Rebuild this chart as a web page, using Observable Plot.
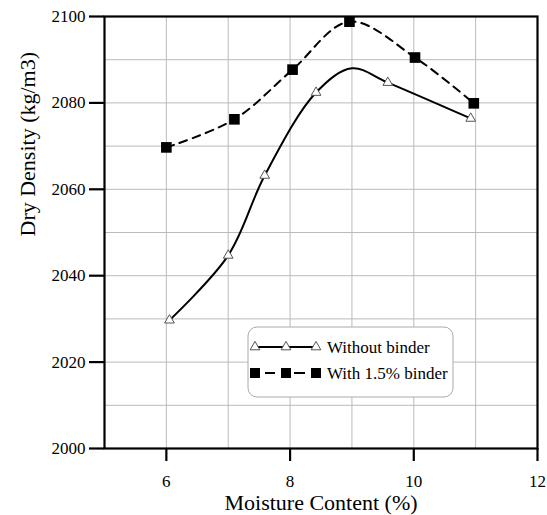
<!DOCTYPE html>
<html><head><meta charset="utf-8">
<script src="https://cdn.jsdelivr.net/npm/d3@7"></script>
<script src="https://cdn.jsdelivr.net/npm/@observablehq/plot@0.6"></script>
<style>body{margin:0;background:#fff;} #chart{position:relative;width:547px;height:515px;}
#chart svg text{font-family:"Liberation Serif","DejaVu Serif",serif;}</style>
</head><body><div id="chart"></div>
<script>
const withoutX = [6.05, 7.0, 7.59, 8.42, 9.58, 10.92];
const withoutY = [2029.7, 2044.7, 2063.2, 2082.4, 2084.7, 2076.4];
// curve peak (fitted line passes above the markers here)
const withoutPeakX = [9.0];
const withoutPeakY = [2088.0];
const withX = [6.0, 7.1, 8.04, 8.96, 10.02, 10.97];
const withY = [2069.7, 2076.2, 2087.7, 2098.8, 2090.5, 2079.9];
const xTicks = [6, 8, 10, 12];
const yTicks = [2000, 2020, 2040, 2060, 2080, 2100];
const xGrid = d3.range(5, 13, 1);
const yGrid = d3.range(2000, 2101, 10);
const seriesNames = ["Without binder", "With 1.5% binder"];

const without = withoutX.map((x, i) => ({x, y: withoutY[i]}));
const withoutLine = without.concat(withoutPeakX.map((x, i) => ({x, y: withoutPeakY[i]}))).sort((a, b) => a.x - b.x);
const withB = withX.map((x, i) => ({x, y: withY[i]}));
const font = "Liberation Serif";

const plot = Plot.plot({
  width: 547, height: 515,
  marginLeft: 104, marginRight: 10, marginTop: 16, marginBottom: 67,
  style: {fontSize: "16px", color: "#000", background: "#fff"},
  x: {domain: [5, 12]},
  y: {domain: [2000, 2100]},
  marks: [
    Plot.gridX(xGrid, {stroke: "#bbb", strokeOpacity: 1, strokeWidth: 1}),
    Plot.gridY(yGrid, {stroke: "#bbb", strokeOpacity: 1, strokeWidth: 1}),
    Plot.axisX(xTicks, {tickSize: 13, strokeWidth: 2.2, tickPadding: 13, fontSize: 17, fontFamily: font, label: null}),
    Plot.axisY(yTicks, {tickSize: 15, strokeWidth: 2.2, tickPadding: 4, fontSize: 17, fontFamily: font, label: null, tickFormat: d => String(d)}),
    Plot.text(["Moisture Content (%)"], {frameAnchor: "bottom", dy: 61, fontSize: 22, fontFamily: font}),
    Plot.text(["Dry Density (kg/m3)"], {frameAnchor: "left", dx: -77, dy: 4, rotate: -90, fontSize: 22, fontFamily: font}),
    Plot.line(withoutLine, {x: "x", y: "y", curve: "catmull-rom", stroke: "#000", strokeWidth: 2}),
    Plot.line(withB, {x: "x", y: "y", curve: "catmull-rom", stroke: "#000", strokeWidth: 2, strokeDasharray: "8,6"}),
    Plot.dot(without, {x: "x", y: "y", symbol: "triangle", r: 3.6, stroke: "#555", strokeWidth: 1, fill: "#fff"}),
    Plot.dot(withB, {x: "x", y: "y", symbol: "square", r: 6, fill: "#000", stroke: "none"}),
    Plot.frame({stroke: "#000", strokeWidth: 2.2})
  ]
});
document.getElementById("chart").appendChild(plot);

// legend
const svg = d3.select(plot);
const g = svg.append("g").attr("font-family", font).attr("font-size", 17).attr("text-anchor", "start");
g.append("rect").attr("x", 248).attr("y", 327).attr("width", 205).attr("height", 70).attr("rx", 9)
  .attr("fill", "#fff").attr("stroke", "#aaa").attr("stroke-width", 1);
const sx = [255, 286, 316];
g.append("line").attr("x1", 255).attr("x2", 316).attr("y1", 347).attr("y2", 347).attr("stroke", "#000").attr("stroke-width", 2);
const tri = d3.symbol(d3.symbolTriangle, Math.PI * 3.6 * 3.6);
sx.forEach(x => g.append("path").attr("d", tri()).attr("transform", `translate(${x},347)`).attr("fill", "#fff").attr("stroke", "#555"));
g.append("text").attr("x", 327).attr("y", 353).text(seriesNames[0]);
[[265, 275], [294, 305]].forEach(([a, b]) => g.append("line").attr("x1", a).attr("x2", b).attr("y1", 373).attr("y2", 373).attr("stroke", "#000").attr("stroke-width", 2));
sx.forEach(x => g.append("rect").attr("x", x - 5).attr("y", 368).attr("width", 10).attr("height", 10).attr("fill", "#000"));
g.append("text").attr("x", 327).attr("y", 379).text(seriesNames[1]);
</script></body></html>
